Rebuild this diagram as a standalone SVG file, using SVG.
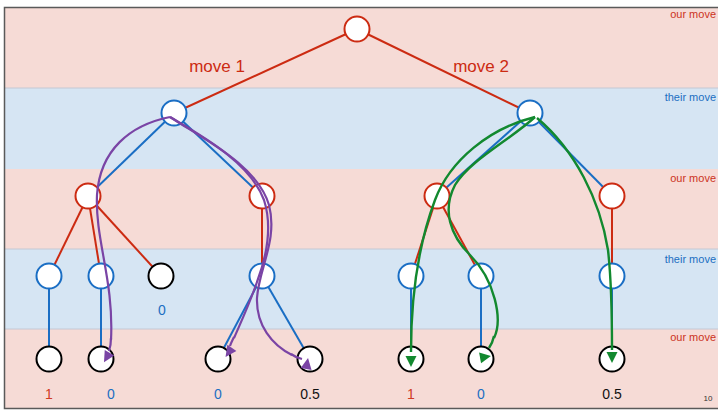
<svg xmlns="http://www.w3.org/2000/svg" xmlns:xlink="http://www.w3.org/1999/xlink" width="718" height="410" viewBox="0 0 718 410">
  <style>
    .band-our { fill: #F6DBD6; }
    .band-their { fill: #D6E5F3; }
    .sep { stroke: #C4C8D4; stroke-width: 1; }
    .frame { stroke: #5A5A5A; stroke-width: 1.5; fill: none; }
    .node circle { fill: #FFFFFF; stroke-width: 2; }
    .our circle { stroke: #CC2B12; }
    .their circle { stroke: #1A6EC4; }
    .term circle { stroke: #000000; }
    .e-red { stroke: #CC2B12; stroke-width: 2; fill: none; }
    .e-blue { stroke: #1A6EC4; stroke-width: 2; fill: none; }
    .p-purple { stroke: #7A44A5; stroke-width: 2.2; fill: none; }
    .p-green { stroke: #12892F; stroke-width: 2.4; fill: none; }
    .a-purple { fill: #7A44A5; }
    .a-green { fill: #12892F; }
    text { font-family: "Liberation Sans", "DejaVu Sans", sans-serif; }
    .lbl-our { fill: #CC3322; font-size: 11px; text-anchor: end; }
    .lbl-their { fill: #1C6FC2; font-size: 11px; text-anchor: end; }
    .move { fill: #CC2B12; font-size: 17px; text-anchor: middle; }
    .val { font-size: 14px; text-anchor: middle; }
    .v-red { fill: #D03A22; }
    .v-blue { fill: #1C6FC2; }
    .v-black { fill: #111111; }
  </style>
  <defs>
    <path id="tri" d="M6,0 L-5,-5.5 L-5,5.5 Z"/>
  </defs>

  <!-- alternating ply bands -->
  <g id="bands">
    <rect class="band-our" x="5" y="8" width="713" height="80"/>
    <rect class="band-their" x="5" y="88" width="713" height="81"/>
    <rect class="band-our" x="5" y="169" width="713" height="80"/>
    <rect class="band-their" x="5" y="249" width="713" height="80"/>
    <rect class="band-our" x="5" y="329" width="713" height="79"/>
    <line class="sep" x1="5" y1="88" x2="718" y2="88"/>
    <line class="sep" x1="5" y1="249" x2="718" y2="249"/>
    <line class="sep" x1="5" y1="329" x2="718" y2="329"/>
    <path class="frame" d="M718,7.5 H4.5 V408.5 H718"/>
  </g>

  <!-- ply labels -->
  <g id="ply-labels">
    <text class="lbl-our" x="716" y="18">our move</text>
    <text class="lbl-their" x="716" y="101">their move</text>
    <text class="lbl-our" x="716" y="182">our move</text>
    <text class="lbl-their" x="716" y="263">their move</text>
    <text class="lbl-our" x="716" y="341">our move</text>
    <text x="708" y="401" font-size="8" fill="#333333" text-anchor="middle">10</text>
  </g>

  <!-- tree edges -->
  <g id="connectors">
    <line class="e-red" x1="357" y1="29" x2="174" y2="113"/>
    <line class="e-red" x1="357" y1="29" x2="530" y2="113"/>
    <line class="e-blue" x1="174" y1="113" x2="88" y2="196"/>
    <line class="e-blue" x1="174" y1="113" x2="262" y2="196"/>
    <line class="e-blue" x1="530" y1="113" x2="437" y2="196"/>
    <line class="e-blue" x1="530" y1="113" x2="612" y2="196"/>
    <line class="e-red" x1="88" y1="196" x2="49" y2="276"/>
    <line class="e-red" x1="88" y1="196" x2="101" y2="276"/>
    <line class="e-red" x1="88" y1="196" x2="161" y2="276"/>
    <line class="e-red" x1="262" y1="196" x2="262" y2="276"/>
    <line class="e-red" x1="437" y1="196" x2="411" y2="276"/>
    <line class="e-red" x1="437" y1="196" x2="481" y2="276"/>
    <line class="e-red" x1="612" y1="196" x2="612" y2="276"/>
    <line class="e-blue" x1="49" y1="276" x2="49" y2="359"/>
    <line class="e-blue" x1="101" y1="276" x2="101" y2="359"/>
    <line class="e-blue" x1="262" y1="276" x2="218" y2="359"/>
    <line class="e-blue" x1="262" y1="276" x2="310" y2="359"/>
    <line class="e-blue" x1="411" y1="276" x2="411" y2="359"/>
    <line class="e-blue" x1="481" y1="276" x2="481" y2="359"/>
    <line class="e-blue" x1="612" y1="276" x2="612" y2="359"/>
    <text class="move" x="217" y="72">move 1</text>
    <text class="move" x="481" y="72">move 2</text>
  </g>

  <!-- nodes -->
  <g id="n-root" class="node our"><circle cx="357" cy="29" r="12.5"/></g>
  <g id="n-a" class="node their"><circle cx="174" cy="113" r="12.5"/></g>
  <g id="n-b" class="node their"><circle cx="530" cy="113" r="12.5"/></g>
  <g id="n-a1" class="node our"><circle cx="88" cy="196" r="12.5"/></g>
  <g id="n-a2" class="node our"><circle cx="262" cy="196" r="12.5"/></g>
  <g id="n-b1" class="node our"><circle cx="437" cy="196" r="12.5"/></g>
  <g id="n-b2" class="node our"><circle cx="612" cy="196" r="12.5"/></g>
  <g id="n-a1a" class="node their"><circle cx="49" cy="276" r="12.5"/></g>
  <g id="n-a1b" class="node their"><circle cx="101" cy="276" r="12.5"/></g>
  <g id="n-a1c" class="node term"><circle cx="161" cy="276" r="12.5"/><text class="val v-blue" x="162" y="315">0</text></g>
  <g id="n-a2a" class="node their"><circle cx="262" cy="276" r="12.5"/></g>
  <g id="n-b1a" class="node their"><circle cx="411" cy="276" r="12.5"/></g>
  <g id="n-b1b" class="node their"><circle cx="481" cy="276" r="12.5"/></g>
  <g id="n-b2a" class="node their"><circle cx="612" cy="276" r="12.5"/></g>
  <g id="leaf-1" class="node term"><circle cx="49" cy="359" r="12.5"/><text class="val v-red" x="49" y="399">1</text></g>
  <g id="leaf-2" class="node term"><circle cx="101" cy="359" r="12.5"/><text class="val v-blue" x="111" y="399">0</text></g>
  <g id="leaf-3" class="node term"><circle cx="218" cy="359" r="12.5"/><text class="val v-blue" x="218" y="399">0</text></g>
  <g id="leaf-4" class="node term"><circle cx="310" cy="359" r="12.5"/><text class="val v-black" x="310" y="399">0.5</text></g>
  <g id="leaf-5" class="node term"><circle cx="411" cy="359" r="12.5"/><text class="val v-red" x="411" y="399">1</text></g>
  <g id="leaf-6" class="node term"><circle cx="481" cy="359" r="12.5"/><text class="val v-blue" x="481" y="399">0</text></g>
  <g id="leaf-7" class="node term"><circle cx="612" cy="359" r="12.5"/><text class="val v-black" x="612" y="399">0.5</text></g>

  <!-- playout paths over the tree -->
  <g id="playouts">
    <path class="p-purple" d="M170,117 C130,125 100,150 97,195 C95,240 114,280 111,340"/>
    <path class="p-purple" d="M111,338 C111,345 110,348 109,351" stroke-width="1"/>
    <path class="p-purple" d="M170,117 C200,135 250,162 264,200 C273,228 266,258 257,282 C249,305 241,322 234,338"/>
    <path class="p-purple" d="M234,337 C232,341 231,343 230,346" stroke-width="1"/>
    <path class="p-purple" d="M170,117 C205,140 257,165 269,205 C278,240 259,268 257,298 C256,325 272,345 292,355"/>
    <path class="p-purple" d="M291,354 C295,357 298,358 302,359" stroke-width="1"/>
    <use xlink:href="#tri" class="a-purple" transform="translate(107,357) rotate(120)"/>
    <use xlink:href="#tri" class="a-purple" transform="translate(229,352) rotate(125)"/>
    <use xlink:href="#tri" class="a-purple" transform="translate(307,364) rotate(-80)"/>

    <path class="p-green" d="M535,117 C490,128 450,160 435,200 C420,240 411,290 411,352"/>
    <path class="p-green" d="M535,117 C510,140 470,160 455,185 C442,210 450,235 470,255 C495,280 503,320 494,338"/>
    <path class="p-green" d="M494,336 C493,341 491,345 489,348" stroke-width="1"/>
    <path class="p-green" d="M537,118 C575,150 600,200 608,250 C612,285 612,320 612,350"/>
    <use xlink:href="#tri" class="a-green" transform="translate(411,361) rotate(90)"/>
    <use xlink:href="#tri" class="a-green" transform="translate(485,357) rotate(-10)"/>
    <use xlink:href="#tri" class="a-green" transform="translate(612,357) rotate(90)"/>
  </g>
</svg>
